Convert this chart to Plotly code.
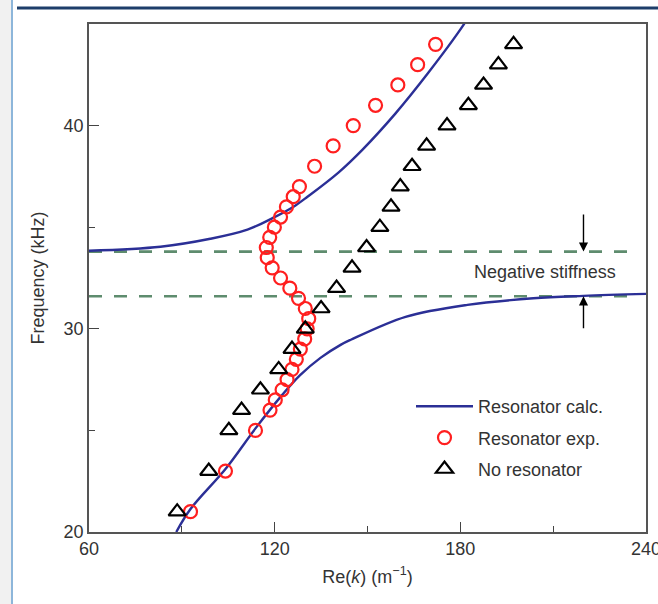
import plotly.graph_objects as go

# ---------------- data ----------------
# Resonator calc. (two branches of the calculated dispersion curve)
calc_low_k = [88.2, 92.8, 104.1, 113.8, 121.9, 128.3, 134.8, 141.3, 144.6, 162.3, 182.3, 203.6, 219.8, 240.0]
calc_low_f = [20.0, 21.13, 23.1, 25.1, 26.65, 27.73, 28.57, 29.21, 29.46, 30.59, 31.18, 31.5, 31.62, 31.72]
calc_up_k = [60.0, 83.1, 99.2, 111.2, 119.6, 126.1, 130.6, 140.6, 148.4, 159.0, 169.7, 180.7, 181.4]
calc_up_f = [33.84, 34.04, 34.43, 34.88, 35.47, 36.01, 36.5, 37.69, 38.82, 40.59, 42.61, 44.88, 45.05]

# Resonator exp.
exp_k = [92.8, 104.1, 113.8, 118.5, 120.2, 122.4, 124.0, 125.6, 127.0, 128.3, 129.7, 130.5, 131.0,
         129.9, 127.7, 124.9, 121.9, 119.2, 117.6, 117.3, 118.4, 119.9, 121.9, 123.8, 126.0, 128.0,
         132.9, 138.9, 145.4, 152.6, 159.8, 166.2, 172.0]
exp_f = [21, 23, 25, 26, 26.5, 27, 27.5, 28, 28.5, 29, 29.5, 30, 30.5,
         31, 31.5, 32, 32.5, 33, 33.5, 34, 34.5, 35, 35.5, 36, 36.5, 37,
         38, 39, 40, 41, 42, 43, 44]

# No resonator
nores_k = [88.5, 98.7, 105.2, 109.3, 115.4, 121.3, 125.6, 129.9, 135.0, 140.0, 145.0, 149.7,
           154.0, 157.6, 160.6, 164.4, 169.1, 175.7, 182.6, 187.5, 192.3, 197.2]
nores_f = [21, 23, 25, 26, 27, 28, 29, 30, 31, 32, 33, 34, 35, 36, 37, 38, 39, 40, 41, 42, 43, 44]

# Negative-stiffness band edges (kHz)
band_f = [31.6, 33.8]
band_label = "Negative stiffness"
x_ticks = [60, 120, 180, 240]
y_ticks = [20, 30, 40]

# ---------------- layout geometry ----------------
W_FIG, H_FIG = 658, 604
L, R, T, B = 89, 12, 24, 72
pw = W_FIG - L - R
ph = H_FIG - T - B


def pxx(x):
    return (x - L) / pw


def pxy(y):
    return (H_FIG - B - y) / ph


FONT = "Liberation Sans, Arial, Helvetica, sans-serif"
TXT = "#333333"

fig = go.Figure()

fig.add_trace(go.Scatter(
    x=calc_low_k + [None] + calc_up_k,
    y=calc_low_f + [None] + calc_up_f,
    mode="lines", name="Resonator calc.", legendgroup="a",
    line=dict(color="#2b2f96", width=2.4, shape="spline", smoothing=1.0),
    connectgaps=False,
))
fig.add_trace(go.Scatter(
    x=exp_k, y=exp_f, mode="markers", name="Resonator exp.", legendgroup="b",
    marker=dict(symbol="circle-open", size=13, color="#ff1f1f", line=dict(width=2.2, color="#ff1f1f")),
))
fig.add_trace(go.Scatter(
    x=nores_k, y=nores_f, mode="markers", name="No resonator", legendgroup="c",
    marker=dict(symbol="triangle-up-open", size=15, color="black", line=dict(width=2.2, color="black")),
))

shapes = []
for f in band_f:
    shapes.append(dict(type="line", xref="x", yref="y", x0=60, x1=237.2, y0=f, y1=f,
                       line=dict(color="#5e8c6e", width=2.6, dash="13px,12px"), layer="below"))

# decorative page header / margin lines
shapes.append(dict(type="rect", xref="paper", yref="paper", x0=pxx(0), x1=pxx(11), y0=pxy(604), y1=pxy(0),
                   fillcolor="#f1f1f1", line=dict(width=0), layer="below"))
shapes.append(dict(type="line", xref="paper", yref="paper", x0=pxx(12), x1=pxx(12), y0=pxy(604), y1=pxy(0),
                   line=dict(color="#8db6da", width=2)))
shapes.append(dict(type="line", xref="paper", yref="paper", x0=pxx(17), x1=pxx(658), y0=pxy(8), y1=pxy(8),
                   line=dict(color="#1d3e6a", width=3)))

annotations = [
    dict(x=207.4, y=(band_f[0] + band_f[1]) / 2 + 0.08, xref="x", yref="y", text=band_label, showarrow=False,
         font=dict(family=FONT, size=18, color=TXT), xanchor="center", yanchor="middle"),
    dict(x=219.8, y=band_f[1], ax=219.8, ay=35.7, xref="x", yref="y", axref="x", ayref="y",
         text="", showarrow=True, arrowhead=2, arrowsize=1.3, arrowwidth=1.4, arrowcolor="black"),
    dict(x=219.8, y=band_f[0], ax=219.8, ay=29.95, xref="x", yref="y", axref="x", ayref="y",
         text="", showarrow=True, arrowhead=2, arrowsize=1.3, arrowwidth=1.4, arrowcolor="black"),
]

axis_common = dict(
    showgrid=False, zeroline=False, showline=True, linecolor="#555555", linewidth=1.5, mirror=True,
    ticks="inside", ticklen=10, tickwidth=1.4, tickcolor="#444444",
    tickfont=dict(family=FONT, size=18, color=TXT), automargin=False,
)

fig.update_layout(
    width=W_FIG, height=H_FIG, autosize=False,
    margin=dict(l=L, r=R, t=T, b=B, pad=0),
    paper_bgcolor="white", plot_bgcolor="white",
    font=dict(family=FONT, color=TXT),
    xaxis=dict(range=[60, 240], tickvals=x_ticks, ticklabeloverflow="allow",
               title=dict(text="Re(<i>k</i>) (m<sup>−1</sup>)", font=dict(family=FONT, size=18, color=TXT), standoff=12),
               minor=dict(tickvals=[90, 150, 210], ticks="inside", ticklen=6, tickwidth=1.4, tickcolor="#444444", showgrid=False),
               **axis_common),
    yaxis=dict(range=[20, 45], tickvals=y_ticks, ticklabeloverflow="allow",
               title=dict(text="Frequency (kHz)", font=dict(family=FONT, size=18, color=TXT), standoff=14),
               minor=dict(tickvals=[25, 35], ticks="inside", ticklen=6, tickwidth=1.4, tickcolor="#444444", showgrid=False),
               **axis_common),
    legend=dict(x=pxx(411), y=pxy(388), xanchor="left", yanchor="top", bgcolor="rgba(0,0,0,0)",
                borderwidth=0, font=dict(family=FONT, size=18, color=TXT), itemwidth=57,
                traceorder="grouped", tracegroupgap=5),
    shapes=shapes,
    annotations=annotations,
    showlegend=True,
)

fig.write_html("out.html", config={"displayModeBar": False},
               post_script="document.body.style.margin='0px';document.body.style.overflow='hidden';")
